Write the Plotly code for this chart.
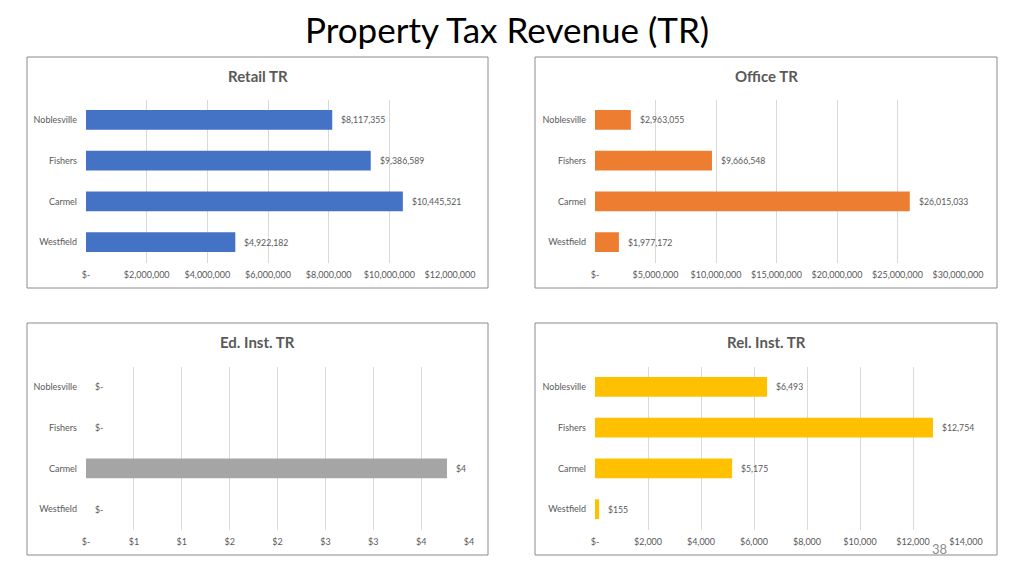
import plotly.graph_objects as go

# Page body has a default 8px margin; figure is sized to fit inside the viewport
OFF = 8
W, H = 1024 - OFF, 576 - OFF

cities = ["Noblesville", "Fishers", "Carmel", "Westfield"]
retail_tr = [8117355, 9386589, 10445521, 4922182]
office_tr = [2963055, 9666548, 26015033, 1977172]
ed_inst_tr = [0, 0, 3.77, 0]
rel_inst_tr = [6493, 12754, 5175, 155]

retail_ticks = [0, 2e6, 4e6, 6e6, 8e6, 10e6, 12e6]
retail_ticktext = ["$-", "$2,000,000", "$4,000,000", "$6,000,000", "$8,000,000", "$10,000,000", "$12,000,000"]
office_ticks = [0, 5e6, 10e6, 15e6, 20e6, 25e6, 30e6]
office_ticktext = ["$-", "$5,000,000", "$10,000,000", "$15,000,000", "$20,000,000", "$25,000,000", "$30,000,000"]
ed_ticks = [0, 0.5, 1, 1.5, 2, 2.5, 3, 3.5, 4]
ed_ticktext = ["$-", "$1", "$1", "$2", "$2", "$3", "$3", "$4", "$4"]
rel_ticks = [0, 2000, 4000, 6000, 8000, 10000, 12000, 14000]
rel_ticktext = ["$-", "$2,000", "$4,000", "$6,000", "$8,000", "$10,000", "$12,000", "$14,000"]

panels = [
    dict(title="Retail TR", vals=retail_tr, color="#4472C4", ticks=retail_ticks, ticktext=retail_ticktext,
         box=(27, 57, 488, 288), plot=(86, 450, 99.5, 262.5)),
    dict(title="Office TR", vals=office_tr, color="#ED7D31", ticks=office_ticks, ticktext=office_ticktext,
         box=(535, 57, 997, 288), plot=(595, 958, 99.5, 262.5)),
    dict(title="Ed. Inst. TR", vals=ed_inst_tr, color="#A5A5A5", ticks=ed_ticks, ticktext=ed_ticktext,
         box=(27, 323, 488, 555), plot=(86, 469, 366.5, 529.5)),
    dict(title="Rel. Inst. TR", vals=rel_inst_tr, color="#FFC000", ticks=rel_ticks, ticktext=rel_ticktext,
         box=(535, 323, 997, 555), plot=(595, 966, 366.5, 529.5)),
]

FONT = "Lato"
TXT = "#595959"


def px(x):
    return (x - OFF) / W


def py(y):
    return 1 - (y - OFF) / H


def fmt(v):
    return "$-" if v == 0 else "${:,.0f}".format(v)


fig = go.Figure()
shapes = []
annotations = []

for i, p in enumerate(panels):
    n = "" if i == 0 else str(i + 1)
    xa, ya = "x" + n, "y" + n
    fig.add_trace(go.Bar(
        x=p["vals"], y=cities, orientation="h", xaxis=xa, yaxis=ya,
        marker=dict(color=p["color"], line=dict(width=0)),
        hoverinfo="skip", showlegend=False,
    ))
    x0, x1, yt, yb = p["plot"]
    fig.update_layout(**{
        "xaxis" + n: dict(domain=[px(x0), px(x1)], range=[0, p["ticks"][-1]], anchor=ya,
                          tickvals=p["ticks"], ticktext=p["ticktext"], showgrid=True,
                          gridcolor="#D9D9D9", gridwidth=1, zeroline=False, showline=False,
                          ticks="", ticklabelstandoff=5, automargin=False,
                          tickfont=dict(family=FONT, size=9, color=TXT), fixedrange=True),
        "yaxis" + n: dict(domain=[py(yb), py(yt)], anchor=xa, type="category",
                          categoryorder="array", categoryarray=cities, autorange="reversed",
                          showgrid=False, zeroline=False, showline=False, ticks="",
                          ticklabelstandoff=8, automargin=False,
                          tickfont=dict(family=FONT, size=9, color=TXT), fixedrange=True),
    })
    for c, v in zip(cities, p["vals"]):
        annotations.append(dict(x=v, y=c, xref=xa, yref=ya, text=fmt(v), showarrow=False,
                                xanchor="left", yanchor="middle", xshift=7,
                                font=dict(family=FONT, size=8.7, color=TXT)))
    bx0, by0, bx1, by1 = p["box"]
    shapes.append(dict(type="rect", xref="paper", yref="paper", x0=px(bx0), x1=px(bx1),
                       y0=py(by1), y1=py(by0), line=dict(color="#8C8C8C", width=1),
                       fillcolor="rgba(0,0,0,0)", layer="below"))
    annotations.append(dict(x=px((bx0 + bx1) / 2), y=py(by0 + 19), xref="paper", yref="paper",
                            text="<b>" + p["title"] + "</b>", showarrow=False,
                            xanchor="center", yanchor="middle",
                            font=dict(family=FONT, size=15, color=TXT)))

annotations.append(dict(x=px(507), y=py(29), xref="paper", yref="paper",
                        text="Property Tax Revenue (TR)", showarrow=False,
                        xanchor="center", yanchor="middle",
                        font=dict(family=FONT, size=35, color="#000000")))
annotations.append(dict(x=px(939), y=py(549), xref="paper", yref="paper",
                        text="38", showarrow=False, xanchor="center", yanchor="middle",
                        font=dict(family=FONT, size=13, color="#8C8C8C")))

fig.update_layout(width=W, height=H, margin=dict(l=0, r=0, t=0, b=0, autoexpand=False),
                  paper_bgcolor="white", plot_bgcolor="white", bargap=0.52,
                  shapes=shapes, annotations=annotations, showlegend=False)

fig.write_html("out.html", config={"displayModeBar": False})
